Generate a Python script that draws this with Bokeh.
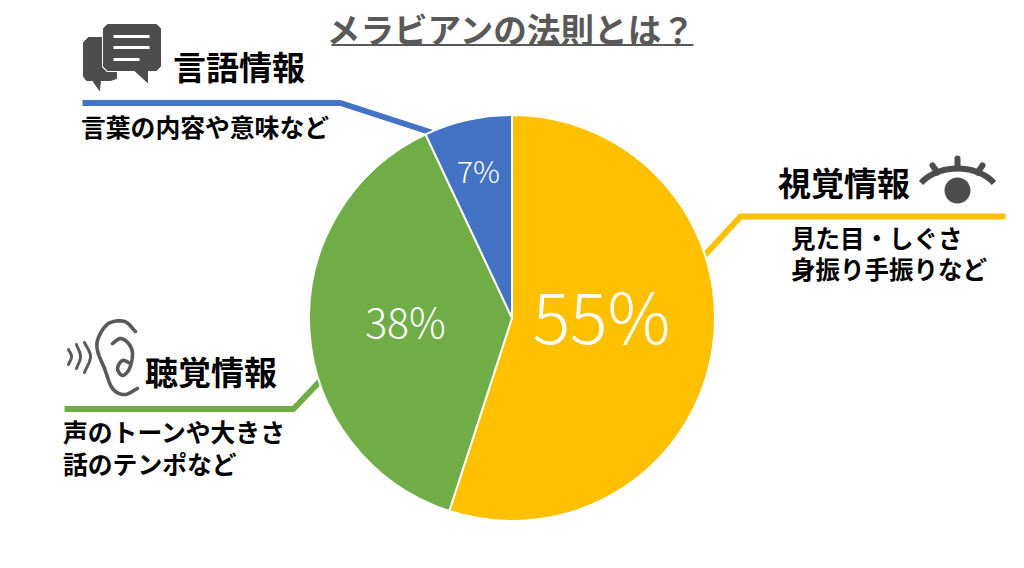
import numpy as np
from bokeh.plotting import figure
from bokeh.models import Range1d
from bokeh.core.properties import value
from bokeh.embed import file_html
from bokeh.resources import INLINE

title = "メラビアンの法則とは？"
categories = ["視覚情報", "聴覚情報", "言語情報"]
shares = [55, 38, 7]
colors = ["#FFC000", "#70AD47", "#4472C4"]
pct_labels = ["55%", "38%", "7%"]
descriptions = [["見た目・しぐさ", "身振り手振りなど"], ["声のトーンや大きさ", "話のテンポなど"], ["言葉の内容や意味など"]]

W, H = 1016, 560
JP = value("Noto Sans CJK JP")
JPL = value("Noto Sans CJK JP Light")
GREY = "#4D4D4D"

def X(v): return np.asarray(v, float)
def Y(v): return H - np.asarray(v, float)

p = figure(width=W, height=H, output_backend="svg", toolbar_location=None,
           x_range=Range1d(0, W), y_range=Range1d(0, H), min_border=0,
           outline_line_color=None, background_fill_color="white", border_fill_color="white")
p.axis.visible = False
p.grid.visible = False

def smooth(pts, n=12):
    pts = np.asarray(pts, float)
    q = np.vstack([2 * pts[0] - pts[1], pts, 2 * pts[-1] - pts[-2]])
    out = []
    for i in range(1, len(q) - 2):
        for t in np.linspace(0, 1, n, endpoint=False):
            a, b, c, d = q[i - 1], q[i], q[i + 1], q[i + 2]
            out.append(0.5 * (2 * b + (c - a) * t + (2 * a - 5 * b + 4 * c - d) * t ** 2 + (3 * b - a - 3 * c + d) * t ** 3))
    out.append(pts[-1])
    out = np.array(out)
    return out[:, 0], out[:, 1]

def stroke(xs, ys, color=GREY, w=3.0, cap="round"):
    p.line(X(xs), Y(ys), line_color=color, line_width=w, line_cap=cap, line_join="round")

def label(x, y, s, size, color="black", style="bold", align="left", font=JP):
    p.text([X(x)], [Y(y)], text=[s], text_font=font, text_font_size=f"{size}px", text_color=color,
           text_font_style=style, text_align=align, text_baseline="middle")

# title
label(511, 28, title, 33.6, color="#595959", style="bold", align="center")
stroke([331, 693], [44.5, 44.5], color="#595959", w=2, cap="butt")

# leader lines
stroke([1005, 740, 704], [216, 216, 255], colors[0], 6, "butt")
stroke([64, 293, 322], [408.5, 408.5, 378], colors[1], 6, "butt")
stroke([82, 340, 434], [102.5, 102.5, 133], colors[2], 6, "butt")

# pie
cx, cy, r = X(511.5), Y(317.5), 203
edges = np.cumsum([0] + shares) / sum(shares) * 2 * np.pi
p.wedge(x=[cx] * 3, y=[cy] * 3, radius=r, start_angle=list(np.pi / 2 - edges[:-1]),
        end_angle=list(np.pi / 2 - edges[1:]), direction="clock", fill_color=colors,
        line_color="white", line_width=2)

# percent labels
label(601, 313, pct_labels[0], 70, "white", "normal", "center", JPL)
label(405, 319, pct_labels[1], 41, "white", "normal", "center", JPL)
label(478, 169, pct_labels[2], 30, "white", "normal", "center", JPL)

# headings and descriptions
label(777.5, 181, categories[0], 33)
label(144.5, 370, categories[1], 33)
label(172.5, 65.5, categories[2], 33)
label(790.5, 236.5, descriptions[0][0], 24.5)
label(790.5, 267.5, descriptions[0][1], 24.5)
label(62.5, 430.5, descriptions[1][0], 24.8)
label(62.5, 462.5, descriptions[1][1], 24.8)
label(80.5, 125.5, descriptions[2][0], 24.8)

# chat icon
bx = [88, 106, 106, 116, 116, 110, 100, 99, 92, 86, 83, 83]
by = [37, 37, 62, 70, 78, 80, 80, 90, 80, 80, 76, 42]
p.patch(X(bx), Y(by), fill_color=GREY, line_color=GREY, line_width=1)
fx = [107, 156, 160, 160, 156, 147, 147, 134, 107, 103, 103]
fy = [24, 24, 28, 66, 70, 70, 82, 70, 70, 66, 28]
p.patch(X(fx), Y(fy), fill_color=GREY, line_color="white", line_width=3, line_join="round")
p.patch(X(fx), Y(fy), fill_color=GREY, line_color=GREY, line_width=1, line_join="round")
for yy, x2 in [(36, 149), (47, 149), (59, 139)]:
    stroke([113, x2], [yy, yy], "white", 3, "butt")

# eye icon
th = np.radians(np.linspace(32, 148, 30))
stroke(957 + 43 * np.cos(th), 199 - 31 * np.sin(th), GREY, 6, "butt")
stroke([957, 957], [158, 168], GREY, 6)
stroke([932, 937], [165, 172], GREY, 6)
stroke([982, 977], [165, 172], GREY, 6)
p.circle(x=[X(957)], y=[Y(190)], radius=13, fill_color=GREY, line_color=None)

# ear icon
ox, oy = smooth([(135, 331), (124, 321), (108, 323), (98, 337), (97, 350), (104, 368), (112, 388), (124, 394), (137, 388)])
stroke(ox, oy, "#595959", 3.6)
ix, iy = smooth([(112, 343), (120, 338), (128, 343), (132, 353), (129, 368), (122, 375), (117, 368), (122, 360), (130, 363)])
stroke(ix, iy, "#595959", 3.6)
for pts in ([(68, 349), (71, 356), (68, 364)], [(76, 344), (80, 356), (76, 368)], [(84, 342), (90, 356), (84, 372)]):
    wx, wy = smooth(pts)
    stroke(wx, wy, "#595959", 3)

open("out.html", "w").write(file_html(p, INLINE))
